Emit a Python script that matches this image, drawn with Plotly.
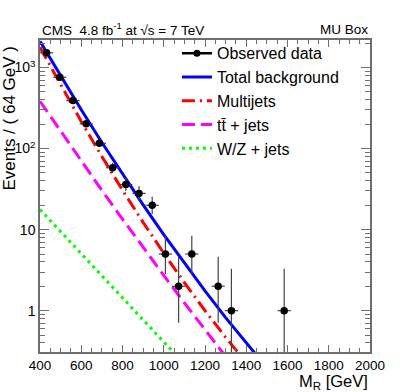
import plotly.graph_objects as go

# ---- data ----
bin_centers = [432, 496, 560, 624, 688, 752, 816, 880, 944, 1008, 1072, 1136, 1264, 1328, 1584]
counts = [1520, 760, 392, 202, 116, 58, 36, 28, 20, 5, 2, 5, 2, 1, 1]
err_low = [38.5, 27.6, 19.8, 14.2, 10.8, 7.6, 6.0, 5.3, 4.4, 2.16, 1.29, 2.16, 1.29, 0.83, 0.83]
err_high = [40.0, 28.6, 20.8, 15.2, 11.8, 8.6, 7.0, 6.3, 5.5, 3.38, 2.64, 3.38, 2.64, 2.30, 2.30]
bin_half_width = 32

mr_curve = [400, 500, 600, 700, 800, 900, 1000, 1100, 1200, 1300, 1400, 1500]
total_bkg = [2113, 787, 301, 119, 48.3, 20.2, 8.67, 3.84, 1.75, 0.82, 0.40, 0.197]
multijets = [1778, 608, 216, 79.8, 30.7, 12.3, 5.12, 2.22, 1.00, 0.469, 0.229]
ttjets = [384, 163, 70.1, 30.5, 13.5, 6.03, 2.73, 1.25, 0.579, 0.272]
wzjets = [17.7, 9.44, 5.05, 2.70, 1.44, 0.771, 0.412, 0.220]

x_ticks = [400, 600, 800, 1000, 1200, 1400, 1600, 1800, 2000]
y_ticks = [1, 10, 100, 1000]
y_ticktext = ["1", "10", "10<sup>2</sup>", "10<sup>3</sup>"]

FONT = "Liberation Sans, Arial, Helvetica, sans-serif"
AXC = "#6e6e6e"

fig = go.Figure()

fig.add_trace(go.Scatter(
    x=mr_curve[:len(total_bkg)], y=total_bkg, mode="lines", name="Total background",
    line=dict(color="#0000ff", width=3), showlegend=False))
fig.add_trace(go.Scatter(
    x=mr_curve[:len(multijets)], y=multijets, mode="lines", name="Multijets",
    line=dict(color="#ff0000", width=3, dash="13px,5px,2px,5px"), showlegend=False))
fig.add_trace(go.Scatter(
    x=mr_curve[:len(ttjets)], y=ttjets, mode="lines", name="tt̄ + jets",
    line=dict(color="#ff00ff", width=3, dash="13px,6px"), showlegend=False))
fig.add_trace(go.Scatter(
    x=mr_curve[:len(wzjets)], y=wzjets, mode="lines", name="W/Z + jets",
    line=dict(color="#00ff00", width=3, dash="3px,4px"), showlegend=False))

fig.add_trace(go.Scatter(
    x=bin_centers, y=counts, mode="markers", name="Observed data", showlegend=False,
    marker=dict(color="black", size=7.5),
    error_y=dict(type="data", symmetric=False, array=err_high, arrayminus=err_low,
                 color="#444444", thickness=1.2, width=0),
    error_x=dict(type="constant", value=bin_half_width, color="#444444", thickness=1.2, width=0)))

# legend entries
fig.add_trace(go.Scatter(x=[None], y=[None], mode="lines+markers", name="Observed data",
                         line=dict(color="black", width=2.5), marker=dict(color="black", size=7)))
fig.add_trace(go.Scatter(x=[None], y=[None], mode="lines", name="Total background",
                         line=dict(color="#0000ff", width=3)))
fig.add_trace(go.Scatter(x=[None], y=[None], mode="lines", name="Multijets",
                         line=dict(color="#ff0000", width=3, dash="13px,5px,2px,5px")))
fig.add_trace(go.Scatter(x=[None], y=[None], mode="lines", name="tt̄ + jets",
                         line=dict(color="#ff00ff", width=3, dash="13px,6px")))
fig.add_trace(go.Scatter(x=[None], y=[None], mode="lines", name="W/Z + jets",
                         line=dict(color="#00ff00", width=3, dash="3px,4px")))

minor_y = [m * 10 ** e for e in range(-1, 4) for m in range(2, 10)]

fig.update_layout(
    width=411, height=392,
    margin=dict(l=40, r=41, t=40, b=40),
    plot_bgcolor="white", paper_bgcolor="white",
    font=dict(family=FONT, size=14, color="black"),
    showlegend=True,
    legend=dict(x=0.415, y=1.012, xanchor="left", yanchor="top",
                bgcolor="rgba(0,0,0,0)", font=dict(size=16, family=FONT),
                itemwidth=30, tracegroupgap=0),
    xaxis=dict(range=[400, 2000], tickvals=x_ticks, ticks="inside", ticklen=7,
               tickcolor=AXC, showline=True, linecolor=AXC, linewidth=1.5,
               mirror="allticks", showgrid=False, zeroline=False,
               tickfont=dict(size=13.5),
               minor=dict(dtick=50, ticks="inside", ticklen=4, tickcolor=AXC, showgrid=False)),
    yaxis=dict(type="log", range=[-0.51, 3.34], tickvals=y_ticks, ticktext=y_ticktext,
               ticks="inside", ticklen=9, tickcolor=AXC, showline=True, linecolor=AXC,
               linewidth=1.5, mirror="allticks", showgrid=False, zeroline=False,
               tickfont=dict(size=14),
               minor=dict(tickvals=minor_y, ticks="inside", ticklen=5, tickcolor=AXC, showgrid=False)),
    annotations=[
        dict(text="CMS  4.8 fb<sup>-1</sup> at √s = 7 TeV", xref="paper", yref="paper",
             x=0.0, y=1.035, xanchor="left", yanchor="middle", showarrow=False,
             font=dict(size=13.5)),
        dict(text="MU Box", xref="paper", yref="paper", x=1.0, y=1.035,
             xanchor="right", yanchor="middle", showarrow=False, font=dict(size=13.5)),
        dict(text="M<sub>R</sub> [GeV]", xref="paper", yref="paper", x=1.0, y=-0.095,
             xanchor="right", yanchor="middle", showarrow=False, font=dict(size=16.5)),
        dict(text="Events / ( 64 GeV )", xref="paper", yref="paper", x=-0.091, y=0.99,
             xanchor="center", yanchor="top", textangle=-90, showarrow=False,
             font=dict(size=17)),
    ],
)

# remove the default 8px page margin so the figure fills the 411x392 window exactly
fig.write_html("out.html", config={"displayModeBar": False},
               post_script="document.body.style.margin='0px';")
